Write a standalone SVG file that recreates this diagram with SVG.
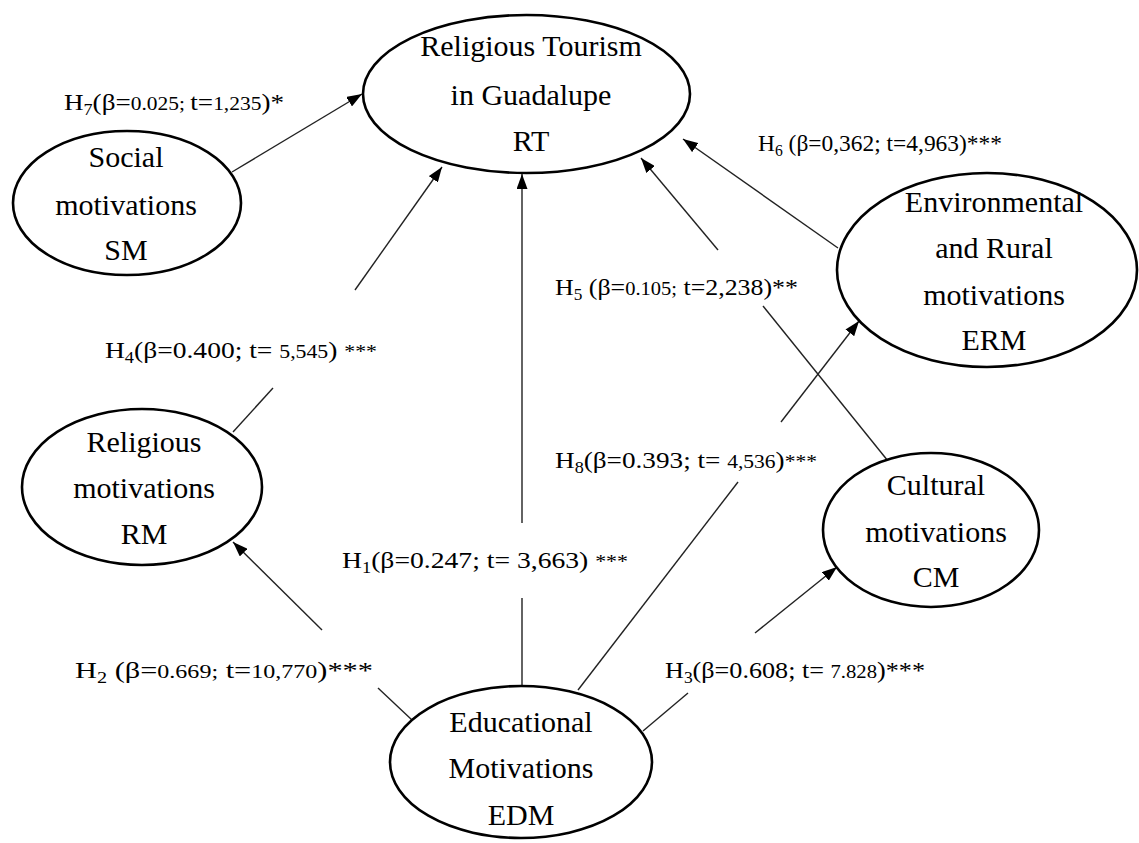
<svg xmlns="http://www.w3.org/2000/svg" width="1139" height="843" viewBox="0 0 1139 843">
<style>
.node ellipse{fill:#fff;stroke:#000;stroke-width:2.6}
.node text{font-family:"Liberation Serif","Times New Roman",serif;font-size:30px;fill:#000;text-anchor:middle}
.conn line{stroke:#222;stroke-width:1.4}
.lbl{font-family:"Liberation Serif","Times New Roman",serif;font-size:24px;fill:#000}
.sm{font-size:19px}
.sub{font-size:16px}
</style>
<defs>
<marker id="ah" markerUnits="userSpaceOnUse" markerWidth="15" markerHeight="11" refX="15" refY="5.5" orient="auto">
<path d="M0,0 L15,5.5 L0,11 z" fill="#000"/>
</marker>
</defs>
<rect width="1139" height="843" fill="#fff"/>
<g id="connectors" class="conn">
<line x1="232" y1="172" x2="362" y2="94" marker-end="url(#ah)"/>
<line x1="838" y1="248" x2="683" y2="139" marker-end="url(#ah)"/>
<line x1="718" y1="250" x2="641" y2="158" marker-end="url(#ah)"/>
<line x1="763" y1="306" x2="888" y2="461"/>
<line x1="355" y1="290" x2="442" y2="167" marker-end="url(#ah)"/>
<line x1="233" y1="432" x2="273" y2="388"/>
<line x1="522" y1="523" x2="522" y2="174" marker-end="url(#ah)"/>
<line x1="522" y1="598" x2="522" y2="686"/>
<line x1="781" y1="422" x2="859" y2="321" marker-end="url(#ah)"/>
<line x1="738" y1="482" x2="578" y2="690"/>
<line x1="322" y1="630" x2="233" y2="542" marker-end="url(#ah)"/>
<line x1="378" y1="688" x2="412" y2="720"/>
<line x1="755" y1="633" x2="837" y2="567" marker-end="url(#ah)"/>
<line x1="688" y1="693" x2="643" y2="731"/>
</g>
<g id="RT" class="node">
<ellipse cx="526.5" cy="94" rx="163.5" ry="79"/>
<text x="531" y="56">Religious Tourism</text>
<text x="531" y="105">in Guadalupe</text>
<text x="531" y="151">RT</text>
</g>
<g id="SM" class="node">
<ellipse cx="127" cy="203" rx="114" ry="72"/>
<text x="126" y="167">Social</text>
<text x="126" y="215">motivations</text>
<text x="126" y="260">SM</text>
</g>
<g id="RM" class="node">
<ellipse cx="142" cy="487" rx="120" ry="78"/>
<text x="144" y="452">Religious</text>
<text x="144" y="498">motivations</text>
<text x="144" y="544">RM</text>
</g>
<g id="ERM" class="node">
<ellipse cx="987" cy="270" rx="150" ry="97"/>
<text x="994" y="212">Environmental</text>
<text x="994" y="258">and Rural</text>
<text x="994" y="305">motivations</text>
<text x="994" y="350">ERM</text>
</g>
<g id="CM" class="node">
<ellipse cx="931" cy="530" rx="108" ry="77"/>
<text x="936" y="495">Cultural</text>
<text x="936" y="542">motivations</text>
<text x="936" y="587">CM</text>
</g>
<g id="EDM" class="node">
<ellipse cx="521" cy="762" rx="131" ry="76"/>
<text x="521" y="732">Educational</text>
<text x="521" y="778">Motivations</text>
<text x="521" y="825">EDM</text>
</g>
<g id="labels">
<text class="lbl" x="64" y="110" textLength="220" lengthAdjust="spacingAndGlyphs">H<tspan class="sub" dy="5">7</tspan><tspan dy="-5">(β=</tspan><tspan class="sm">0.025; </tspan>t=<tspan class="sm">1,235</tspan>)*</text>
<text class="lbl" x="758" y="151" textLength="244" lengthAdjust="spacingAndGlyphs">H<tspan class="sub" dy="5">6</tspan><tspan dy="-5"> (β=0,362;  t=4,963)***</tspan></text>
<text class="lbl" x="555" y="295" textLength="243" lengthAdjust="spacingAndGlyphs">H<tspan class="sub" dy="5">5</tspan><tspan dy="-5"> (β=</tspan><tspan class="sm">0.105;</tspan> t=2,238)**</text>
<text class="lbl" x="105" y="358" textLength="272" lengthAdjust="spacingAndGlyphs">H<tspan class="sub" dy="5">4</tspan><tspan dy="-5">(β=0.400; t= </tspan><tspan class="sm">5,545</tspan>) <tspan class="sm">***</tspan></text>
<text class="lbl" x="555" y="468" textLength="262" lengthAdjust="spacingAndGlyphs">H<tspan class="sub" dy="5">8</tspan><tspan dy="-5">(β=0.393; t= </tspan><tspan class="sm">4,536</tspan>)<tspan class="sm">***</tspan></text>
<text class="lbl" x="342" y="568" textLength="286" lengthAdjust="spacingAndGlyphs">H<tspan class="sub" dy="5">1</tspan><tspan dy="-5">(β=0.247; t= 3,663) </tspan><tspan class="sm">***</tspan></text>
<text class="lbl" x="75" y="678" textLength="298" lengthAdjust="spacingAndGlyphs">H<tspan class="sub" dy="5">2</tspan><tspan dy="-5"> (β=</tspan><tspan class="sm">0.669;</tspan> t=<tspan class="sm">10,770</tspan>)***</text>
<text class="lbl" x="665" y="678" textLength="260" lengthAdjust="spacingAndGlyphs">H<tspan class="sub" dy="5">3</tspan><tspan dy="-5">(β=0.608; t= </tspan><tspan class="sm">7.828</tspan>)***</text>
</g>
</svg>
